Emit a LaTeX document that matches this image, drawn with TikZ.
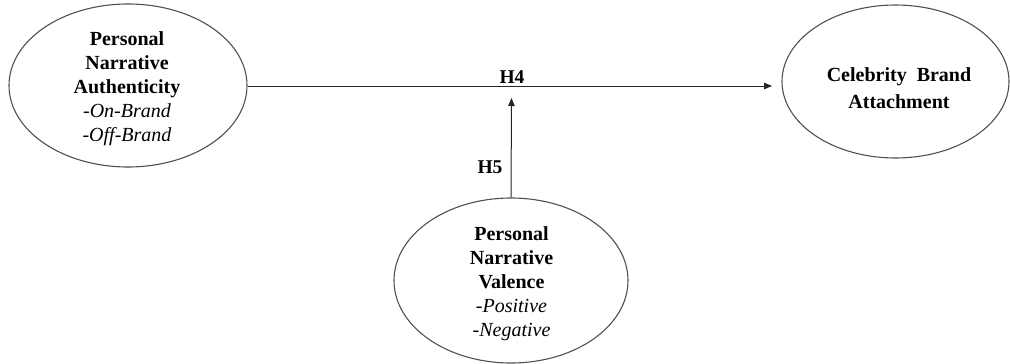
\documentclass[tikz,border=0pt]{standalone}
\usepackage{fontspec}
\setmainfont{Liberation Serif}
\usetikzlibrary{shapes.geometric,arrows.meta}
\definecolor{edgegray}{RGB}{80,80,80}
\tikzset{
  construct/.style={ellipse, draw=edgegray, line width=1.1pt, inner sep=0pt},
  ctext/.style={align=center, inner sep=0pt, font=\fontsize{20}{24}\selectfont},
  hyplabel/.style={inner sep=0pt, font=\fontsize{19.5}{24}\selectfont\bfseries},
  hyparrow/.style={draw=black!85, line width=1pt, -{Triangle[length=8pt,width=6.5pt]}}
}
\begin{document}
\begin{tikzpicture}[x=1pt,y=-1pt]
\useasboundingbox (0,0) rectangle (1010,364);
% ellipses
\node[construct, minimum width=238pt, minimum height=163pt] (L) at (128,85.5) {};
\node[construct, minimum width=227pt, minimum height=153pt] (R) at (895.5,81.5) {};
\node[construct, minimum width=234pt, minimum height=165pt] (B) at (511,280.5) {};
% texts
\node[ctext] (Lt) at (127,89) {\textbf{Personal}\\\textbf{Narrative}\\\textbf{Authenticity}\\-\textit{On-Brand}\\-\textit{Off-Brand}};
\node[ctext, font=\fontsize{20}{26.5}\selectfont] (Rt) at (899,88) {\textbf{Celebrity\ \ Brand}\\\textbf{Attachment}};
\node[ctext] (Bt) at (511.5,283.5) {\textbf{Personal}\\\textbf{Narrative}\\\textbf{Valence}\\-\textit{Positive}\\-\textit{Negative}};
% connectors
\coordinate (tipH4) at (772,86);
\coordinate (tipH5) at (511.5,98);
\draw[hyparrow] (L.east |- tipH4) -- (tipH4);
\draw[hyparrow] (B.north) -- (tipH5);
% hypothesis labels
\node[hyplabel] (H4) at (512,77) {H4};
\node[hyplabel] (H5) at (490,167) {H5};
\end{tikzpicture}
\end{document}
